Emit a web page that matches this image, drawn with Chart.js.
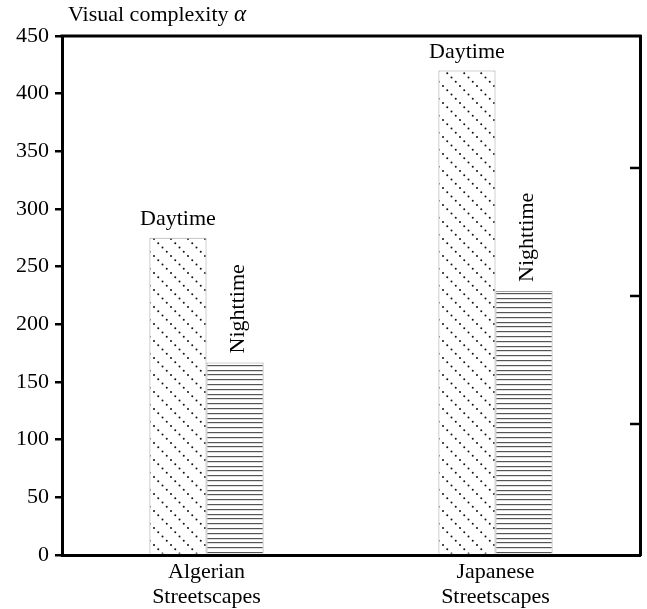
<!DOCTYPE html>
<html>
<head>
<meta charset="utf-8">
<script src="https://cdn.jsdelivr.net/npm/chart.js@4.4.0/dist/chart.umd.min.js"></script>
<style>
  html, body { margin: 0; padding: 0; background: #ffffff; }
  #wrap { width: 647px; height: 609px; position: relative; }
</style>
</head>
<body>
<div id="wrap"><canvas id="c" width="647" height="609"></canvas></div>
<script>
// ---- data ----
const categories = [["Algerian", "Streetscapes"], ["Japanese", "Streetscapes"]];
const seriesNames = ["Daytime", "Nighttime"];
const daytimeValues = [275, 420];
const nighttimeValues = [167, 229];
const yTickMin = 0;
const yTickMax = 450;
const yTickStep = 50;
const rightTickValues = [1, 2, 3];
const axisTitle = "Visual complexity ";
const axisTitleSymbol = "α";

const FONT = "'Liberation Serif', 'Times New Roman', serif";

function makeDotPattern() {
  const s = 17;
  const c = document.createElement('canvas');
  c.width = s; c.height = s;
  const g = c.getContext('2d');
  g.fillStyle = '#ffffff';
  g.fillRect(0, 0, s, s);
  g.fillStyle = '#111111';
  for (let i = 0; i < 4; i++) {
    const p = i * s / 4;
    g.beginPath();
    g.arc(p + 1, p + 1, 1.0, 0, Math.PI * 2);
    g.fill();
  }
  return g.createPattern(c, 'repeat');
}

function makeLinePattern() {
  const c = document.createElement('canvas');
  c.width = 8; c.height = 24;
  const g = c.getContext('2d');
  g.fillStyle = '#ffffff';
  g.fillRect(0, 0, 8, 24);
  g.fillStyle = '#555555';
  [0, 5, 10, 14, 19].forEach(y => g.fillRect(0, y, 8, 1.2));
  return g.createPattern(c, 'repeat');
}

const decorPlugin = {
  id: 'decor',
  afterDraw(chart) {
    const ctx = chart.ctx;
    const a = chart.chartArea;
    ctx.save();
    // top frame line
    ctx.strokeStyle = '#000';
    ctx.lineWidth = 3;
    ctx.beginPath();
    ctx.moveTo(a.left - 1.5, a.top);
    ctx.lineTo(a.right + 1.5, a.top);
    ctx.stroke();
    // inward ticks on the right axis
    const y2 = chart.scales.y2;
    ctx.lineWidth = 2.5;
    y2.ticks.forEach(t => {
      const py = y2.getPixelForValue(t.value);
      ctx.beginPath();
      ctx.moveTo(a.right, py);
      ctx.lineTo(a.right - 10, py);
      ctx.stroke();
    });
    // axis title
    ctx.fillStyle = '#000';
    ctx.textBaseline = 'alphabetic';
    ctx.textAlign = 'left';
    ctx.font = "22px " + FONT;
    const tx = 68, ty = 21;
    ctx.fillText(axisTitle, tx, ty);
    const w = ctx.measureText(axisTitle).width;
    ctx.font = "italic 23px " + FONT;
    ctx.fillText(axisTitleSymbol, tx + w, ty);
    // bar labels
    ctx.font = "22px " + FONT;
    const m0 = chart.getDatasetMeta(0);
    m0.data.forEach(bar => {
      ctx.textAlign = 'center';
      ctx.textBaseline = 'alphabetic';
      ctx.fillText(seriesNames[0], bar.x, bar.y - 13);
    });
    const m1 = chart.getDatasetMeta(1);
    m1.data.forEach(bar => {
      ctx.save();
      ctx.translate(bar.x + 3, bar.y - 9);
      ctx.rotate(-Math.PI / 2);
      ctx.textAlign = 'left';
      ctx.textBaseline = 'middle';
      ctx.fillText(seriesNames[1], 0, 0);
      ctx.restore();
    });
    ctx.restore();
  }
};

const ctx = document.getElementById('c').getContext('2d');
new Chart(ctx, {
  type: 'bar',
  data: {
    labels: categories,
    datasets: [
      {
        label: seriesNames[0],
        data: daytimeValues,
        backgroundColor: makeDotPattern(),
        borderColor: '#a0a0a0',
        borderWidth: 1,
        categoryPercentage: 0.395,
        barPercentage: 1.0,
        yAxisID: 'y'
      },
      {
        label: seriesNames[1],
        data: nighttimeValues,
        backgroundColor: makeLinePattern(),
        borderColor: '#a0a0a0',
        borderWidth: 1,
        categoryPercentage: 0.395,
        barPercentage: 1.0,
        yAxisID: 'y'
      }
    ]
  },
  options: {
    responsive: false,
    animation: false,
    devicePixelRatio: 1,
    layout: { padding: { top: 36, left: 0, right: 0, bottom: 0 } },
    plugins: {
      legend: { display: false },
      tooltip: { enabled: false },
      title: { display: false }
    },
    scales: {
      x: {
        type: 'category',
        offset: true,
        grid: { display: false, drawTicks: false },
        border: { display: true, color: '#000', width: 3 },
        ticks: {
          color: '#000',
          font: { family: FONT, size: 22, lineHeight: 1.12 },
          padding: 5,
          maxRotation: 0,
          autoSkip: false
        },
        afterFit(scale) { scale.height = 54; }
      },
      y: {
        position: 'left',
        min: yTickMin,
        max: yTickMax,
        ticks: {
          stepSize: yTickStep,
          color: '#000',
          font: { family: FONT, size: 22 },
          padding: 6
        },
        grid: {
          drawOnChartArea: false,
          drawTicks: true,
          tickLength: 7,
          color: '#000',
          lineWidth: 2.5
        },
        border: { display: true, color: '#000', width: 3 },
        afterFit(scale) { scale.width = 62; }
      },
      y2: {
        position: 'right',
        min: -0.0234,
        max: 4.031,
        afterBuildTicks(scale) {
          scale.ticks = rightTickValues.map(v => ({ value: v }));
        },
        ticks: { display: false },
        grid: { drawOnChartArea: false, drawTicks: false, display: false },
        border: { display: true, color: '#000', width: 3 },
        afterFit(scale) { scale.width = 7; }
      }
    }
  },
  plugins: [decorPlugin]
});
</script>
</body>
</html>
